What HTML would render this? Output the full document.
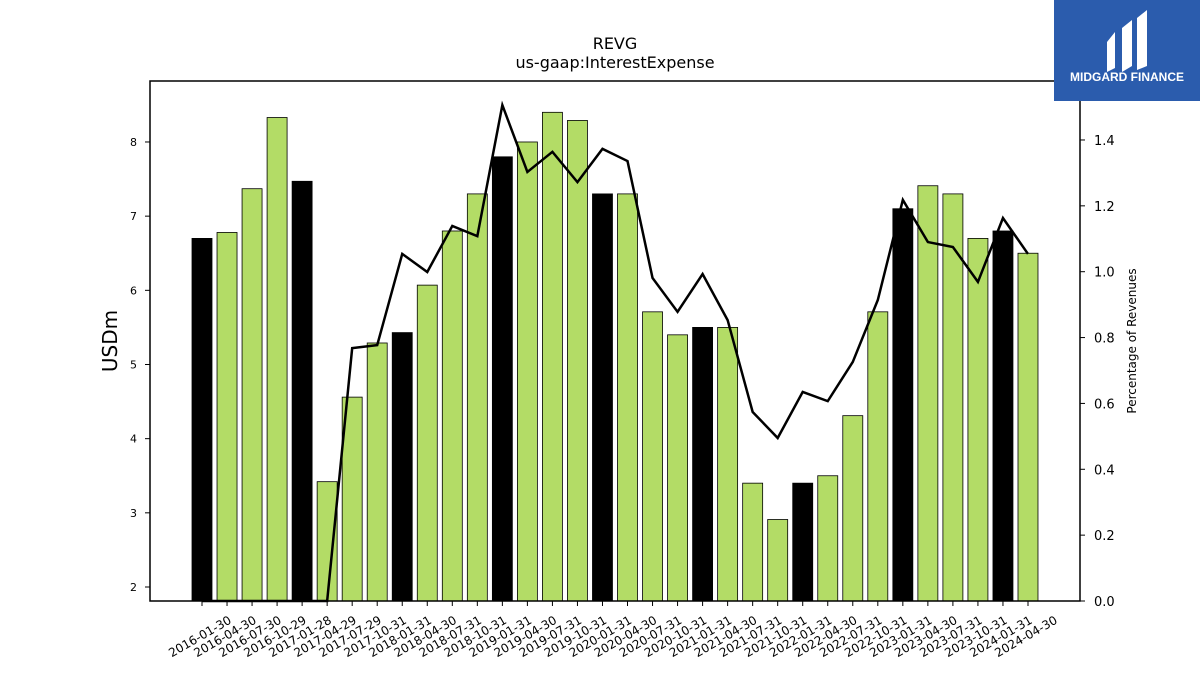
<!DOCTYPE html>
<html><head><meta charset="utf-8">
<style>
body{margin:0;background:#fff;width:1200px;height:675px;overflow:hidden;font-family:"Liberation Sans","DejaVu Sans",sans-serif;}
svg text{font-family:"DejaVu Sans","Liberation Sans",sans-serif;}
</style></head>
<body>
<svg id="chart" width="1200" height="675" xmlns="http://www.w3.org/2000/svg">
<text x="615" y="49" text-anchor="middle" font-size="16">REVG</text>
<text x="615" y="68" text-anchor="middle" font-size="16">us-gaap:InterestExpense</text>
<g id="bars"></g>
<g id="line"></g>
<rect x="150" y="81" width="930" height="520" fill="none" stroke="#000" stroke-width="1.5"/>
<g id="yleft"></g>
<g id="yright"></g>
<g id="xaxis"></g>
<text transform="translate(117,341) rotate(-90)" text-anchor="middle" font-size="20">USDm</text>
<text transform="translate(1136,341) rotate(-90)" text-anchor="middle" font-size="12">Percentage of Revenues</text>
<g>
<rect x="1054" y="0" width="146" height="101" fill="#2b5cad"/>
<path d="M1107 42 L1115 32 L1115 68 L1107 72 Z M1122 28 L1132 20 L1132 66 L1122 72 Z M1137 18 L1147 10 L1147 66 L1137 70 Z" fill="#fff"/>
<text x="1127" y="81" text-anchor="middle" font-size="12" font-weight="bold" fill="#fff" style="font-family:'Liberation Sans',sans-serif">MIDGARD FINANCE</text>
</g>
</svg>
<script>
const categories=["2016-01-30","2016-04-30","2016-07-30","2016-10-29","2017-01-28","2017-04-29","2017-07-29","2017-10-31","2018-01-31","2018-04-30","2018-07-31","2018-10-31","2019-01-31","2019-04-30","2019-07-31","2019-10-31","2020-01-31","2020-04-30","2020-07-31","2020-10-31","2021-01-31","2021-04-30","2021-07-31","2021-10-31","2022-01-31","2022-04-30","2022-07-31","2022-10-31","2023-01-31","2023-04-30","2023-07-31","2023-10-31","2024-01-31","2024-04-30"];
const interestExpense=[6.7,6.78,7.37,8.33,7.47,3.42,4.56,5.29,5.43,6.07,6.8,7.3,7.8,8.0,8.4,8.29,7.3,7.3,5.71,5.4,5.5,5.5,3.4,2.91,3.4,3.5,4.31,5.71,7.1,7.41,7.3,6.7,6.8,6.5];
const pctRevenues=[0,0,0,0,0,0,0.768,0.777,1.054,0.999,1.139,1.108,1.506,1.303,1.364,1.272,1.373,1.336,0.981,0.878,0.993,0.853,0.574,0.495,0.635,0.607,0.726,0.914,1.218,1.09,1.075,0.969,1.163,1.054];
const leftTicks=[2,3,4,5,6,7,8];
const rightTicks=[0.0,0.2,0.4,0.6,0.8,1.0,1.2,1.4];
const NS="http://www.w3.org/2000/svg";
const x=i=>202+i*25.03;
const yL=v=>587-(v-2)*74.17;
const yR=v=>601-v*329.3;
function mk(t,a,p){const e=document.createElementNS(NS,t);for(const k in a)e.setAttribute(k,a[k]);p.appendChild(e);return e;}
const bars=document.getElementById('bars');
interestExpense.forEach((v,i)=>{
 const top=yL(v);
 const r=mk('rect',{x:x(i)-10,y:top,width:20,height:601-top,fill:(i%4===0)?'#000':'#b3dc66',stroke:'#000','stroke-width':0.8},bars);
 
 
});
const lg=document.getElementById('line');
const pl=mk('polyline',{points:pctRevenues.map((v,i)=>x(i)+','+yR(v)).join(' '),fill:'none',stroke:'#000','stroke-width':2.5},lg);


const yl=document.getElementById('yleft');
leftTicks.forEach(t=>{
 mk('line',{x1:145,x2:150,y1:yL(t),y2:yL(t),stroke:'#000'},yl);
 const tx=mk('text',{x:137,y:yL(t)+4,'text-anchor':'end','font-size':11},yl);tx.textContent=t;
 
 
});
const yr=document.getElementById('yright');
rightTicks.forEach(t=>{
 mk('line',{x1:1080,x2:1085,y1:yR(t),y2:yR(t),stroke:'#000'},yr);
 const tx=mk('text',{x:1094,y:yR(t)+5,'font-size':13},yr);tx.textContent=t.toFixed(1);
 
 
});
const xa=document.getElementById('xaxis');
categories.forEach((c,i)=>{
 mk('line',{x1:x(i),x2:x(i),y1:601,y2:606,stroke:'#000'},xa);
 const tx=mk('text',{transform:`translate(${x(i)},640) rotate(-30)`,'text-anchor':'middle','font-size':12},xa);tx.textContent=c;
 
 
});
</script>
</body></html>
